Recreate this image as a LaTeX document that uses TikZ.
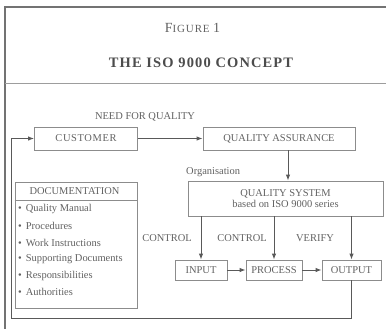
\documentclass[tikz,border=0pt]{standalone}
\usepackage{fontspec}
\setmainfont{Liberation Serif}
\newfontfamily\titlefont[LetterSpace=8]{Liberation Serif}
\newfontfamily\custfont[LetterSpace=6]{Liberation Serif}
\usetikzlibrary{arrows.meta}
\definecolor{txt}{gray}{0.38}
\definecolor{boxc}{gray}{0.55}
\definecolor{arr}{gray}{0.35}
\definecolor{frm}{gray}{0.45}
\tikzset{
  box/.style={draw=boxc, line width=0.8bp, inner sep=0pt, text=txt, font=\fontsize{10.5}{12}\selectfont},
  lbl/.style={inner sep=0pt, text=txt, font=\fontsize{10.5}{12}\selectfont},
  item/.style={inner sep=0pt, anchor=west, text=txt, font=\fontsize{10.5}{12}\selectfont},
  conn/.style={draw=arr, line width=1bp, -{Latex[length=6bp,width=4.5bp]}},
}
\begin{document}
\begin{tikzpicture}[x=1bp,y=-1bp]
\useasboundingbox (0,0) rectangle (386,329);
% frame
\draw[frm, line width=2bp] (386,7) -- (5,7) -- (5,329);
\draw[frm!70, line width=1bp] (5,83) -- (386,83);
% titles
\node[lbl] (fig) at (192.5,28) {\titlefont{\fontsize{14}{15}\selectfont F}{\fontsize{11}{12}\selectfont IGURE} {\fontsize{14}{15}\selectfont 1}};
\node[lbl, text=black!70, font=\titlefont\fontsize{14.5}{16}\selectfont\bfseries] (title) at (201,63) {THE ISO 9000 CONCEPT};
% boxes
\node[box, minimum width=103bp, minimum height=23bp, font=\custfont\fontsize{10.5}{12}\selectfont] (cust) at (86,138.5) {CUSTOMER};
\node[box, minimum width=152bp, minimum height=23bp] (qa) at (279,138.5) {QUALITY ASSURANCE};
\node[box, minimum width=195bp, minimum height=35bp, align=center] (qs) at (285.5,198.5) {QUALITY SYSTEM\\[-1pt]based on ISO 9000 series};
\node[box, minimum width=52bp, minimum height=20bp] (inp) at (201,270) {INPUT};
\node[box, minimum width=56bp, minimum height=20bp] (proc) at (274,270) {PROCESS};
\node[box, minimum width=59bp, minimum height=20bp] (out) at (351.5,270) {OUTPUT};
\node[box, minimum width=122bp, minimum height=126bp] (doc) at (76,245) {};
\node[lbl] (dochead) at (74.5,191) {DOCUMENTATION};
\draw[boxc, line width=0.8bp] (doc.west |- 0,200) -- (doc.east |- 0,200);
\node[item] (i1) at (18,209) {\textbullet\hspace{4pt}Quality Manual};
\node[item] (i2) at (18,226) {\textbullet\hspace{4pt}Procedures};
\node[item] (i3) at (18,243) {\textbullet\hspace{4pt}Work Instructions};
\node[item] (i4) at (18,259.5) {\textbullet\hspace{4pt}Supporting Documents};
\node[item] (i5) at (18,275.5) {\textbullet\hspace{4pt}Responsibilities};
\node[item] (i6) at (18,291.5) {\textbullet\hspace{4pt}Authorities};
% labels
\node[lbl] (need) at (145,117) {NEED FOR QUALITY};
\node[lbl, anchor=west] (org) at (186,172) {Organisation};
\node[lbl] (c1) at (167,238) {CONTROL};
\node[lbl] (c2) at (242,238) {CONTROL};
\node[lbl] (ver) at (315,238) {VERIFY};
% connectors
\draw[conn] (cust) -- (qa);
\draw[conn] (qa.south -| 288,0) -- (qs.north -| 288,0);
\draw[conn] (qs.south -| inp) -- (inp);
\draw[conn] (qs.south -| proc) -- (proc);
\draw[conn] (qs.south -| out) -- (out);
\draw[conn] (inp) -- (proc);
\draw[conn] (proc) -- (out);
\coordinate (fb1) at (351.5,318);
\coordinate (fb2) at (11,318);
\draw[conn] (out.south) -- (fb1) -- (fb2) |- (cust.west);
\end{tikzpicture}
\end{document}
